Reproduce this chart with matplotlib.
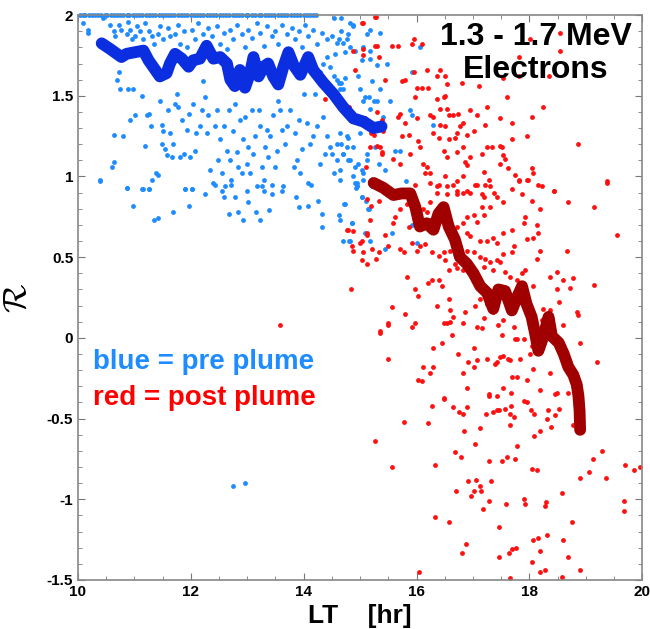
import numpy as np
import matplotlib.pyplot as plt
from matplotlib.ticker import MultipleLocator

plt.rcParams.update({'font.family': ['Liberation Sans', 'DejaVu Sans'], 'font.weight': 'bold'})

# pre plume points that sit on the upper limit (R = 2)
blue_top_lt = [10.04, 10.08, 10.13, 10.19, 10.24, 10.3, 10.36, 10.41, 10.47, 10.52, 10.58, 10.63,
               10.69, 10.74, 10.8, 10.86, 10.91, 10.97, 11.03, 11.08, 11.14, 11.2, 11.26, 11.31,
               11.37, 11.43, 11.48, 11.54, 11.6, 11.65, 11.71, 11.77, 11.83, 11.88, 11.94, 12.0,
               12.05, 12.11, 12.17, 12.22, 12.28, 12.34, 12.4, 12.45, 12.51, 12.57, 12.62, 12.68,
               12.74, 12.8, 12.85, 12.91, 12.97, 13.02, 13.08, 13.14, 13.2, 13.25, 13.31, 13.37,
               13.42, 13.48, 13.54, 13.6, 13.65, 13.71, 13.77, 13.82, 13.88, 13.94, 14.0, 14.05,
               14.11, 14.17, 14.22]

# pre plume points (LT, R)
blue_pts = [
    (10.09, 1.95), (10.17, 1.91), (10.17, 1.89), (10.45, 1.98), (10.57, 1.94), (10.63, 1.90),
    (10.66, 1.87), (10.72, 1.94), (10.77, 1.91), (10.86, 1.88), (10.89, 1.96), (10.92, 1.91),
    (10.95, 1.85), (11.01, 1.87), (11.04, 1.93), (11.10, 1.90), (11.16, 1.85), (11.19, 1.95),
    (11.25, 1.90), (11.31, 1.87), (11.34, 1.82), (11.42, 1.88), (11.45, 1.93), (11.51, 1.85),
    (11.60, 1.92), (11.63, 1.87), (11.72, 1.88), (11.78, 1.94), (11.81, 1.82), (11.87, 1.90),
    (11.93, 1.80), (12.02, 1.91), (12.07, 1.85), (12.13, 1.95), (12.22, 1.88), (12.31, 1.92),
    (12.37, 1.87), (12.46, 1.93), (12.52, 1.82), (12.58, 1.89), (12.64, 1.79), (12.69, 1.91),
    (12.75, 1.85), (12.81, 1.94), (12.90, 1.88), (12.96, 1.80), (13.02, 1.91), (13.08, 1.86),
    (13.17, 1.95), (13.23, 1.89), (13.29, 1.81), (13.35, 1.93), (13.43, 1.87), (13.49, 1.90),
    (13.55, 1.82), (13.61, 1.94), (13.70, 1.88), (13.79, 1.92), (13.85, 1.85), (13.91, 1.90),
    (13.97, 1.80), (14.02, 1.94), (14.08, 1.87), (14.17, 1.91), (14.23, 1.82), (14.32, 1.89),
    (14.41, 1.85), (14.50, 1.87), (14.59, 1.83), (14.67, 1.90), (14.76, 1.85), (14.82, 1.80),
    (14.88, 1.94), (14.97, 1.62), (15.03, 1.72), (15.09, 1.49), (15.18, 1.73), (15.21, 1.59),
    (15.30, 1.47), (15.35, 1.54), (15.41, 1.37), (14.70, 1.54), (14.62, 1.58), (14.53, 1.62),
    (14.41, 1.74), (14.47, 1.68), (14.35, 1.70), (14.29, 1.65), (14.73, 1.61),
    (14.53, 1.98), (14.67, 1.98), (14.82, 1.95), (14.88, 1.93), (14.79, 1.88), (14.70, 1.83),
    (14.62, 1.85), (14.56, 1.76), (14.73, 1.77), (14.91, 1.78), (15.06, 1.80), (15.18, 1.91),
    (15.12, 1.88), (15.35, 1.89), (15.18, 1.78), (15.30, 1.69), (15.47, 1.70), (15.00, 1.54),
    (15.15, 1.49), (15.24, 1.47), (15.06, 1.47), (15.53, 1.47), (15.18, 1.42), (14.59, 1.60),
    (14.67, 1.58), (14.65, 1.54), (15.92, 1.65), (16.06, 1.80), (15.89, 1.41), (15.92, 1.38),
    (16.30, 1.32), (15.62, 1.16), (15.71, 1.16), (15.00, 1.27), (14.76, 1.25), (14.59, 1.20),
    (14.70, 1.14), (14.79, 1.10), (14.91, 1.06), (15.06, 1.02), (14.65, 1.04), (14.88, 1.18),
    (15.12, 1.10), (14.94, 0.96),
    (10.39, 0.98), (10.60, 1.06), (10.63, 1.09), (10.64, 1.26), (10.69, 1.60), (10.72, 1.65),
    (10.74, 1.54), (10.80, 1.25), (10.86, 0.93), (10.89, 1.54), (10.92, 1.35), (10.98, 1.54),
    (11.01, 1.38), (11.13, 1.50), (11.15, 0.92), (11.19, 1.19), (11.22, 1.38), (11.25, 1.39),
    (11.26, 0.92), (11.29, 1.31), (11.31, 0.98), (11.39, 1.02), (11.42, 1.01), (11.45, 1.47),
    (11.48, 1.32), (11.48, 1.20), (11.51, 1.28), (11.54, 1.17), (11.57, 1.13), (11.60, 1.41),
    (11.63, 1.27), (11.66, 1.12), (11.69, 1.20), (11.72, 1.45), (11.75, 1.51), (11.78, 1.43),
    (11.81, 1.12), (11.84, 1.35), (11.87, 1.14), (11.90, 0.92), (11.93, 1.29), (11.96, 1.39),
    (11.99, 1.12), (12.02, 0.92), (12.04, 1.45), (12.07, 1.16), (12.10, 1.27), (12.16, 1.31),
    (12.19, 1.41), (12.22, 1.59), (12.25, 1.49), (12.28, 1.27), (12.31, 1.38), (12.34, 1.04),
    (12.40, 0.96), (12.43, 1.31), (12.46, 1.41), (12.49, 1.10), (12.52, 1.23), (12.55, 1.02),
    (12.58, 1.31), (12.61, 0.94), (12.64, 1.16), (12.67, 1.41), (12.69, 1.10), (12.72, 0.98),
    (12.75, 1.28), (12.78, 1.45), (12.81, 1.15), (12.84, 1.06), (12.87, 1.35), (12.90, 1.02),
    (12.93, 1.23), (12.96, 1.37), (12.99, 1.08), (13.02, 1.18), (13.05, 1.02), (13.08, 1.41),
    (13.11, 1.14), (13.14, 1.25), (13.17, 0.94), (13.20, 1.41), (13.23, 1.31), (13.26, 1.06),
    (13.29, 0.98), (13.32, 1.18), (13.35, 1.29), (13.37, 1.12), (13.40, 1.25), (13.43, 0.95),
    (13.46, 1.38), (13.49, 1.06), (13.52, 1.16), (13.55, 1.47), (13.58, 1.41), (13.61, 1.29),
    (13.64, 0.94), (13.67, 1.20), (13.70, 1.31), (13.76, 1.41), (13.82, 1.06), (13.85, 1.27),
    (13.88, 1.10), (13.91, 1.35), (13.94, 1.02), (13.97, 1.17), (14.00, 1.51), (14.05, 1.33),
    (14.08, 0.96), (14.11, 1.20), (14.17, 1.25), (14.20, 1.51), (14.23, 1.31), (14.29, 1.08),
    (14.35, 1.37), (14.38, 1.14), (14.41, 1.25), (14.47, 1.18), (14.50, 1.14), (14.53, 1.02),
    (14.59, 1.10), (14.65, 1.27), (14.67, 1.20), (14.70, 1.14), (14.76, 1.18), (14.79, 1.24),
    (14.82, 1.10), (14.88, 1.00), (14.94, 0.94), (14.97, 1.08), (15.03, 1.04), (15.06, 0.98),
    (15.12, 1.14), (15.21, 0.94), (15.27, 1.18), (15.33, 1.08), (15.39, 0.95), (15.44, 1.04),
    (10.39, 0.97), (10.86, 0.93), (10.98, 0.82), (11.13, 0.92), (11.25, 0.92), (11.34, 0.73),
    (11.42, 0.74), (11.69, 0.78), (11.90, 0.92), (11.97, 0.82), (12.02, 0.92), (12.25, 0.89),
    (12.43, 0.95), (12.55, 0.91), (12.59, 0.87), (12.68, 0.77), (12.72, 0.95), (12.78, 0.87),
    (12.84, 0.78), (12.93, 0.73), (12.99, 0.91), (13.02, 0.84), (13.16, 0.78), (13.22, 0.73),
    (13.26, 0.94), (13.30, 0.91), (13.39, 0.79), (13.43, 0.89), (13.62, 0.91), (13.87, 0.87),
    (13.91, 0.81), (14.07, 0.82), (14.13, 0.95), (14.26, 0.85), (14.32, 0.77), (14.33, 0.69),
    (14.62, 0.76), (14.65, 0.73), (14.70, 0.60), (14.72, 0.83), (14.81, 0.60), (14.86, 0.71),
    (14.93, 0.93), (15.04, 0.87), (15.11, 0.85), (15.14, 0.80), (15.17, 0.60), (15.09, 0.65),
    (15.44, 0.55), (14.65, 0.98), (14.91, 0.96), (14.94, 0.94), (15.03, 0.87), (14.73, 0.83),
    (15.15, 0.80), (14.85, 0.71), (15.56, 0.65), (14.82, 0.60), (15.82, 0.97), (15.92, 0.70),
    (16.00, 0.59), (12.75, -0.92), (12.96, -0.90),
]

# post plume points (LT, R)
red_pts = [
    (15.28, 1.99), (15.06, 1.95), (15.56, 1.81), (15.68, 1.81), (15.92, 1.82), (16.09, 1.82),
    (15.27, 1.81), (15.95, 1.85), (15.06, 1.75), (15.33, 1.74), (15.44, 1.60), (15.74, 1.59),
    (15.80, 1.60), (16.18, 1.66), (16.42, 1.66), (16.36, 1.62), (16.51, 1.62), (15.95, 1.65),
    (16.00, 1.55), (16.09, 1.55), (16.21, 1.55), (15.97, 1.49), (16.36, 1.48), (16.48, 1.49),
    (16.51, 1.50), (16.54, 1.57), (15.71, 1.39), (15.68, 1.37), (16.00, 1.36), (15.80, 1.33),
    (16.24, 1.38), (16.30, 1.37), (16.42, 1.42), (16.54, 1.42), (16.57, 1.38), (16.42, 1.32),
    (16.51, 1.31), (16.65, 1.38), (16.74, 1.39), (16.77, 1.31), (16.71, 1.27), (16.83, 1.33),
    (16.95, 1.41), (17.07, 1.38), (17.25, 1.43), (17.22, 1.32), (17.48, 1.36), (17.60, 1.49),
    (17.69, 1.33), (18.01, 1.85), (18.55, 1.89), (18.55, 1.78), (18.25, 1.43), (18.04, 1.37),
    (18.87, 1.20), (19.37, 0.97), (17.81, 1.74), (18.34, 1.62), (17.81, 1.62), (17.54, 1.61),
    (17.10, 1.56), (16.80, 1.58), (15.30, 1.40), (15.38, 1.35), (15.41, 1.28), (15.24, 1.26),
    (15.18, 1.18), (15.35, 1.18), (15.38, 1.14), (15.59, 1.11), (15.71, 1.08), (15.86, 1.26),
    (15.74, 1.25), (15.89, 1.14), (16.03, 1.22), (16.06, 1.18), (16.12, 1.08), (16.18, 1.06),
    (16.24, 1.02), (16.15, 1.02), (16.30, 1.27), (16.39, 1.24), (16.48, 1.16), (16.54, 1.12),
    (16.57, 1.23), (16.68, 1.24), (16.71, 1.15), (16.89, 1.26), (17.01, 1.28), (16.83, 1.18),
    (16.86, 1.09), (16.89, 1.07), (16.83, 1.00), (16.95, 1.12), (17.16, 1.14), (17.25, 1.18),
    (17.33, 1.18), (17.48, 1.19), (17.51, 1.18), (17.54, 1.13), (17.57, 1.11), (17.69, 1.23),
    (17.95, 1.25), (18.04, 1.05), (18.07, 1.02), (18.16, 0.95), (17.75, 1.01), (17.81, 0.98),
    (17.48, 1.08), (17.63, 1.05), (17.19, 1.03), (17.28, 0.98), (16.51, 1.00), (16.36, 0.94),
    (16.65, 0.95), (16.89, 0.91), (17.07, 0.95), (16.71, 0.91), (17.95, 0.98), (18.43, 0.91),
    (17.19, 0.87), (17.37, 0.90), (15.03, 1.95), (15.27, 1.99), (14.88, 1.78), (15.06, 1.79),
    (15.30, 1.81), (14.91, 1.66), (14.38, 1.48), (14.81, 1.43), (15.09, 1.36), (15.19, 1.27),
    (15.30, 1.19), (15.38, 1.15), (15.11, 1.06), (15.12, 0.86),
    # middle band
    (15.97, 0.95), (16.24, 0.96), (16.39, 0.95), (16.54, 0.94), (16.71, 0.97), (17.04, 0.95),
    (17.22, 0.95), (17.30, 0.94), (17.69, 0.92), (17.81, 0.97), (17.98, 0.98), (18.22, 0.94),
    (18.43, 0.91), (19.37, 0.96), (19.55, 0.64), (19.14, 0.81), (18.69, 0.84), (18.04, 0.85),
    (18.19, 0.80), (17.87, 0.89), (17.54, 0.84), (17.42, 0.87), (17.30, 0.81), (17.16, 0.89),
    (16.95, 0.90), (16.83, 0.90), (16.71, 0.89), (16.54, 0.89), (16.36, 0.90), (16.24, 0.84),
    (16.12, 0.80), (15.83, 0.83), (15.71, 0.80), (15.59, 0.71), (15.62, 0.75), (15.86, 0.69),
    (16.18, 0.78), (16.24, 0.73), (16.39, 0.73), (16.89, 0.75), (17.01, 0.76), (17.16, 0.81),
    (17.19, 0.76), (17.07, 0.72), (16.83, 0.71), (16.71, 0.69), (16.89, 0.65), (16.95, 0.63),
    (17.13, 0.60), (17.25, 0.60), (17.36, 0.62), (17.42, 0.59), (17.54, 0.65), (17.69, 0.67),
    (17.90, 0.71), (17.93, 0.75), (18.13, 0.70), (18.16, 0.65), (18.07, 0.62), (17.95, 0.61),
    (17.72, 0.57), (17.69, 0.53), (17.54, 0.52), (17.42, 0.48), (17.30, 0.47), (17.22, 0.49),
    (17.13, 0.50), (17.01, 0.53), (16.89, 0.54), (16.77, 0.55), (16.60, 0.54), (16.48, 0.53),
    (16.39, 0.51), (16.27, 0.53), (16.15, 0.58), (16.06, 0.57), (16.00, 0.54), (15.92, 0.59),
    (15.71, 0.55), (15.77, 0.53), (15.83, 0.38), (15.97, 0.30), (16.03, 0.26), (16.21, 0.34),
    (16.27, 0.36), (16.39, 0.36), (16.45, 0.32), (16.51, 0.48), (16.57, 0.42), (16.68, 0.46),
    (16.71, 0.43), (16.83, 0.42), (16.95, 0.40), (17.07, 0.36), (17.19, 0.44), (17.36, 0.42),
    (17.48, 0.47), (17.57, 0.41), (17.66, 0.38), (17.78, 0.36), (17.87, 0.40), (17.93, 0.42),
    (18.07, 0.32), (18.13, 0.49), (18.19, 0.54), (18.37, 0.38), (18.60, 0.36), (18.66, 0.54),
    (18.78, 0.37), (18.72, 0.31), (18.49, 0.30), (18.52, 0.22), (18.49, 0.41), (18.25, 0.18),
    (18.37, 0.17), (18.22, 0.11), (18.60, 0.08), (18.84, 0.16), (18.87, 0.14), (18.90, -0.03),
    (19.14, 0.33), (19.20, -0.15), (18.04, -0.05), (18.01, -0.10), (17.90, -0.01), (17.75, -0.01),
    (17.66, -0.14), (17.54, -0.11), (17.42, -0.15), (17.39, -0.16), (17.25, -0.13), (17.07, -0.14),
    (17.01, -0.06), (16.92, -0.15), (17.01, -0.18), (16.83, -0.22), (16.74, -0.10), (16.63, 0.02),
    (16.54, 0.09), (16.45, -0.03), (16.30, -0.06), (16.30, -0.18), (16.12, -0.18), (16.09, -0.27),
    (16.03, -0.26), (15.97, 0.09), (15.92, 0.07), (15.80, 0.15), (15.56, 0.19), (15.50, 0.08),
    (15.35, 0.04), (15.50, -0.13), (15.12, 0.46), (15.03, 0.48), (15.21, 0.55), (15.29, 0.49),
    (15.33, 0.53), (15.50, 0.57), (14.83, 0.30), (15.19, 0.82), (15.33, 0.85), (13.58, 0.08),
    (15.36, 0.03), (15.50, 0.09), (14.76, 0.67), (14.79, 0.67), (14.88, 0.66), (14.85, 0.57),
    (14.88, 0.54), (15.00, 0.59), (15.03, 0.60), (15.12, 0.65), (15.06, 0.53), (15.12, 0.64),
    (15.18, 0.73), (15.44, 0.64), (16.57, 0.24), (16.60, 0.17), (16.36, 0.20), (16.48, 0.09),
    (16.60, 0.10), (16.65, 0.13), (16.83, 0.09), (17.16, 0.06), (17.19, 0.12), (17.45, 0.08),
    (17.54, 0.11), (17.72, 0.07), (17.78, -0.01), (17.36, 0.16), (17.25, 0.21), (17.13, 0.24),
    (17.07, 0.07), (17.51, 0.02), (17.48, -0.12), (17.63, -0.13), (17.84, -0.13), (17.69, -0.24),
    (17.95, -0.26), (18.19, -0.32), (18.49, -0.34), (18.37, -0.22), (18.07, -0.19), (17.78, -0.24),
    (17.54, -0.31), (17.28, -0.35), (16.89, -0.31), (16.48, -0.37), (16.24, -0.22), (16.86, 0.16),
    (17.04, 0.20),
    # lower part
    (15.27, -0.64), (15.56, -0.80), (15.78, -0.52), (16.05, -1.45), (16.20, -0.53), (16.27, -0.42),
    (16.33, -0.79), (16.32, -1.11), (16.48, -0.38), (16.57, -1.14), (16.64, -0.43), (16.69, -0.71),
    (16.70, -0.95), (16.75, -0.46), (16.78, -0.74), (16.81, -1.33), (16.83, -0.47), (16.84, -0.58),
    (16.88, -1.28), (16.90, -0.43), (16.91, -0.89), (16.96, -0.98), (17.01, -0.95), (17.03, -0.66),
    (17.05, -0.88), (17.12, -0.92), (17.13, -0.56), (17.15, -0.95), (17.17, -1.06), (17.23, -0.47),
    (17.28, -0.36), (17.28, -0.76), (17.29, -1.01), (17.32, -0.89), (17.35, -0.46), (17.42, -0.36),
    (17.43, -0.45), (17.46, -0.45), (17.47, -1.17), (17.47, -1.36), (17.51, -0.76), (17.56, -0.44),
    (17.59, -1.03), (17.61, -0.74), (17.64, -1.33), (17.65, -0.54), (17.66, -0.47), (17.67, -0.34),
    (17.68, -0.42), (17.69, -1.31), (17.73, -0.49), (17.74, -0.75), (17.77, -1.30), (17.78, -0.67),
    (17.90, -1.00), (17.90, -0.39), (17.93, -1.03), (17.96, -0.40), (18.03, -0.45), (18.04, -0.81),
    (18.04, -1.39), (18.06, -1.25), (18.09, -0.47), (18.09, -0.61), (18.14, -0.82), (18.16, -1.24),
    (18.18, -1.32), (18.19, -1.45), (18.19, -0.58), (18.28, -1.04), (18.28, -1.44), (18.30, -1.02),
    (18.31, -1.22), (18.32, -0.50), (18.33, -0.45), (18.38, -0.55), (18.46, -0.48), (18.46, -0.35),
    (18.53, -0.44), (18.57, -0.96), (18.57, -1.48), (18.59, -1.25), (18.69, -1.36), (18.69, -0.34),
    (18.76, -1.14), (18.78, -0.54), (18.89, -0.87), (18.89, -1.44), (19.05, -0.83), (19.13, -0.75),
    (19.29, -0.70), (19.35, -0.87), (19.68, -1.01), (19.68, -1.07), (19.69, -0.79), (19.85, -0.82),
    (19.96, -0.80), (17.66, -1.49),
]

# running mean curves
blue_avg_lt = [10.42, 10.57, 10.77, 10.86, 11.16, 11.25, 11.45, 11.57, 11.63, 11.72, 11.84, 11.96,
               12.04, 12.16, 12.28, 12.40, 12.52, 12.64, 12.70, 12.78, 12.87, 12.96, 13.05, 13.11,
               13.20, 13.29, 13.37, 13.46, 13.55, 13.64, 13.73, 13.82, 13.94, 14.08, 14.17, 14.35,
               14.53, 14.70, 14.88, 15.06, 15.24, 15.38]
blue_avg_r = [1.825, 1.79, 1.74, 1.76, 1.78, 1.72, 1.62, 1.64, 1.70, 1.76, 1.73, 1.68,
              1.72, 1.73, 1.81, 1.73, 1.74, 1.70, 1.60, 1.56, 1.66, 1.55, 1.64, 1.74,
              1.62, 1.68, 1.70, 1.62, 1.57, 1.68, 1.77, 1.69, 1.63, 1.74, 1.66, 1.58,
              1.51, 1.43, 1.36, 1.34, 1.30, 1.31]

red_avg_lt = [15.24, 15.41, 15.59, 15.74, 15.89, 15.98, 16.06, 16.18, 16.30, 16.39, 16.48, 16.57,
              16.68, 16.77, 16.89, 17.01, 17.13, 17.25, 17.36, 17.45, 17.57, 17.69, 17.78, 17.87,
              17.95, 18.04, 18.10, 18.16, 18.25, 18.34, 18.40, 18.52, 18.61, 18.69, 18.78, 18.84,
              18.87, 18.89, 18.90]
red_avg_r = [0.96, 0.93, 0.885, 0.895, 0.895, 0.81, 0.69, 0.71, 0.67, 0.77, 0.81, 0.69,
             0.61, 0.50, 0.46, 0.40, 0.32, 0.28, 0.18, 0.30, 0.29, 0.17, 0.25, 0.32,
             0.21, 0.13, 0.03, -0.08, 0.01, 0.13, 0.01, -0.03, -0.10, -0.18, -0.23, -0.29,
             -0.36, -0.45, -0.57]

blue_pts = np.array(blue_pts)
red_pts = np.array(red_pts)

fig = plt.figure(figsize=(6.5, 6.29), dpi=100)
ax = fig.add_axes([0.12, 0.078, 0.868, 0.898])

dot_blue = '#1e8cff'
dot_red = '#ff1010'
ax.scatter(blue_top_lt, [2.0] * len(blue_top_lt), s=12, color=dot_blue, lw=0, clip_on=False, zorder=2)
ax.scatter(blue_pts[:, 0], blue_pts[:, 1], s=12, color=dot_blue, lw=0, zorder=2)
ax.scatter(red_pts[:, 0], red_pts[:, 1], s=12, color=dot_red, lw=0, zorder=2)

ax.plot(blue_avg_lt, blue_avg_r, color='#0a2ee0', lw=8.5, solid_capstyle='round',
        solid_joinstyle='round', zorder=3)
ax.plot(red_avg_lt, red_avg_r, color='#a00000', lw=8.5, solid_capstyle='round',
        solid_joinstyle='round', zorder=3)

ax.set_xlim(10, 20)
ax.set_ylim(-1.5, 2)
ax.set_xticks([10, 12, 14, 16, 18, 20])
ax.set_yticks([-1.5, -1, -0.5, 0, 0.5, 1, 1.5, 2])
ax.set_yticklabels(['-1.5', '-1', '-0.5', '0', '0.5', '1', '1.5', '2'])
ax.xaxis.set_minor_locator(MultipleLocator(0.5))
ax.yaxis.set_minor_locator(MultipleLocator(0.1))
ax.tick_params(which='both', direction='in', top=True, right=True, labelsize=11, color='#777777')
ax.tick_params(which='major', length=5)
ax.tick_params(which='minor', length=3)
for sp in ax.spines.values():
    sp.set_color('#888888')
    sp.set_linewidth(1.2)

ax.set_xlabel('LT    [hr]', fontsize=19, fontweight='bold', labelpad=4)
ax.set_ylabel(r'$\mathcal{R}$', fontsize=24, labelpad=10, math_fontfamily='cm')

ax.text(18.11, 1.814, '1.3 - 1.7 MeV', ha='center', va='baseline', fontsize=23, fontweight='bold')
ax.text(18.11, 1.61, 'Electrons', ha='center', va='baseline', fontsize=23, fontweight='bold')
ax.text(10.27, -0.15, 'blue = pre plume', color=dot_blue, fontsize=20, fontweight='bold',
        va='center')
ax.text(10.27, -0.37, 'red = post plume', color='#ff0000', fontsize=20, fontweight='bold',
        va='center')

plt.savefig('out.png', dpi=100)
